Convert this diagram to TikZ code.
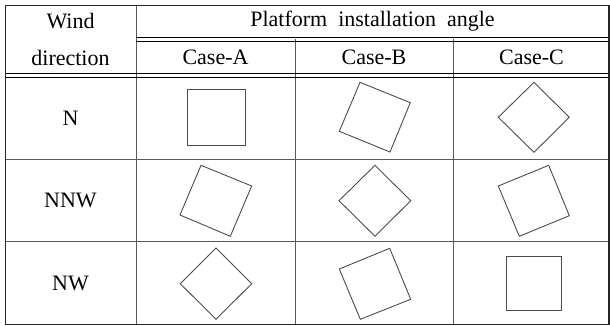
\documentclass[tikz,border=0pt]{standalone}
\usepackage{fontspec}
\setmainfont{Liberation Serif}
\begin{document}
\begin{tikzpicture}[x=1pt,y=-1pt,
  txt/.style={inner sep=0pt,font=\fontsize{22}{26}\selectfont},
  outer/.style={draw=black!85,line width=1.4pt},
  grid/.style={draw=black!65,line width=0.9pt},
  dbl/.style={draw=black,line width=1.1pt},
  sq/.style={draw=black!70,line width=0.9pt,line join=miter}]
\useasboundingbox (0,0) rectangle (610,326);
% inner grid
\draw[grid] (136,5) -- (136,324.5);
\draw[grid] (295,39.5) -- (295,324.5);
\draw[grid] (453.5,39.5) -- (453.5,324.5);
\draw[grid] (5.5,159) -- (609,159);
\draw[grid] (5.5,241.5) -- (609,241.5);
% double rules
\draw[dbl] (136,37.7) -- (609,37.7);
\draw[dbl] (136,41.3) -- (609,41.3);
\draw[dbl] (5.5,73.7) -- (609,73.7);
\draw[dbl] (5.5,77.3) -- (609,77.3);
% outer frame
\draw[outer] (5.5,5.5) rectangle (609,324.5);
% texts
\node[txt] (wind) at (70.5,21) {Wind};
\node[txt] (dir) at (70.5,57.5) {direction};
\node[txt] (pia) at (372.5,21) {Platform\ \ installation\ \ angle};
\node[txt] (ca) at (215.5,57.5) {Case-A};
\node[txt] (cb) at (374,57.5) {Case-B};
\node[txt] (cc) at (531.5,57.5) {Case-C};
\node[txt] (rn) at (70.5,118) {N};
\node[txt] (rnnw) at (70.5,200) {NNW};
\node[txt] (rnw) at (70.5,283) {NW};
% row N
\draw[sq] (187.5,89.5) rectangle (245,145.5);
\draw[sq] (360,82.3) -- (410.3,102.7) -- (390,152) -- (339.3,131.3) -- cycle;
\draw[sq] (534,82.3) -- (569.3,117.3) -- (534,152.3) -- (498.3,117.3) -- cycle;
% row NNW
\draw[sq] (201,165.3) -- (251.7,186) -- (230.3,236.3) -- (180,215) -- cycle;
\draw[sq] (375,165.3) -- (410.7,200.7) -- (375,236.3) -- (339,200.7) -- cycle;
\draw[sq] (548.7,165.3) -- (569.3,215.7) -- (519.3,236.3) -- (498.3,186) -- cycle;
% row NW
\draw[sq] (216,248) -- (251.7,283.7) -- (216,319.3) -- (180.3,283.7) -- cycle;
\draw[sq] (389.7,248.3) -- (410.7,299.3) -- (360.3,319.3) -- (339.3,269) -- cycle;
\draw[sq] (506.7,256.7) rectangle (561,310.7);
\end{tikzpicture}
\end{document}
